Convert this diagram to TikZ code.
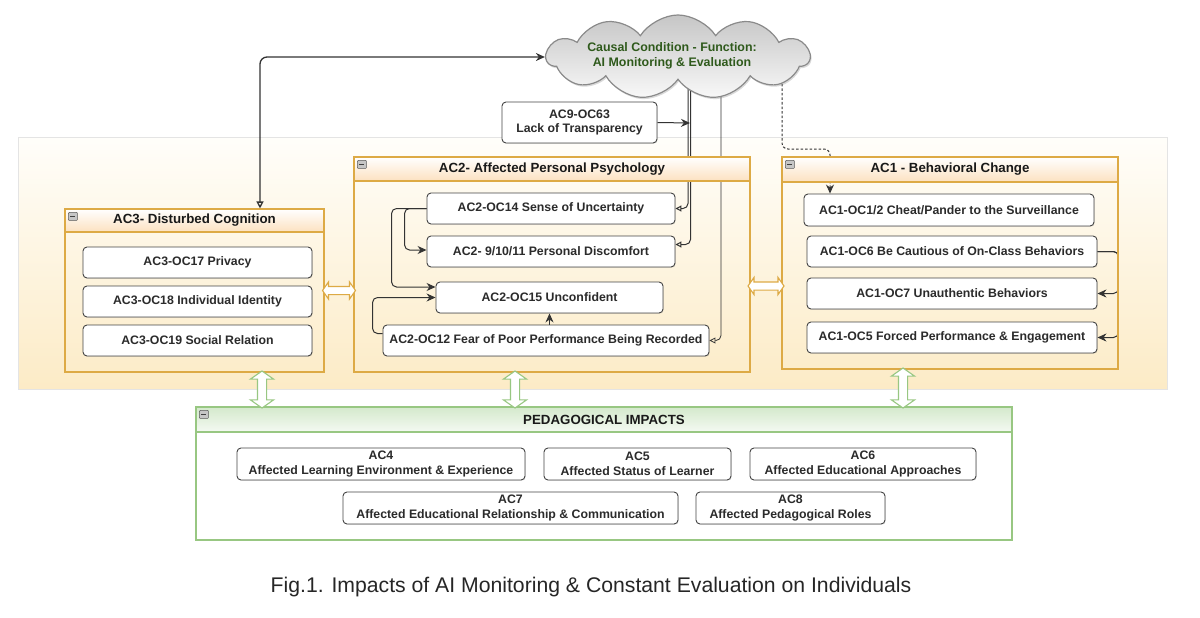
\documentclass[tikz,border=0pt]{standalone}
\usepackage{fontspec}
\setmainfont{Liberation Sans}
\usetikzlibrary{shapes.symbols,shapes.arrows,arrows.meta,calc,shadows}
\pgfdeclarelayer{bglayer}
\pgfdeclarelayer{connlayer}
\pgfsetlayers{bglayer,connlayer,main}
\definecolor{bgT}{HTML}{FFFEFA}
\definecolor{bgBot}{HTML}{FCEBC6}
\definecolor{bgB}{HTML}{E4E4E4}
\definecolor{orA}{HTML}{DDAA45}
\definecolor{orH}{HTML}{FCE1C0}
\definecolor{grA}{HTML}{98C782}
\definecolor{grH}{HTML}{D4E9CC}
\definecolor{boxC}{HTML}{444444}
\definecolor{txtC}{HTML}{2B2B2B}
\definecolor{cloudT}{HTML}{C6C6C6}
\definecolor{cloudB}{HTML}{F8F8F8}
\definecolor{cloudD}{HTML}{8A8A8A}
\definecolor{cloudTxt}{HTML}{2F5A1C}
\definecolor{lineC}{HTML}{333333}
\newcommand\minusicon[1]{%
  \draw[draw=gray!70!black, fill=gray!45, line width=0.5pt, rounded corners=0.8pt]
    ($(#1.north west)+(4,4)$) rectangle ($(#1.north west)+(13,12)$);
  \draw[line width=1pt, black!75] ($(#1.north west)+(6,8)$) -- ($(#1.north west)+(11,8)$);}
\begin{document}
\begin{tikzpicture}[x=1pt,y=-1pt,
  ocbox/.style={draw=boxC, fill=white, rounded corners=4pt, line width=0.9pt, inner sep=0pt,
    align=center, text=txtC, font=\bfseries\fontsize{12.3}{14.5}\selectfont,
    drop shadow={shadow xshift=0.8pt, shadow yshift=-0.8pt, opacity=0.18}},
  grp/.style={draw=orA, line width=1.1pt, inner sep=0pt},
  grphead/.style={draw=orA, line width=1.1pt, top color=white, bottom color=orH, inner sep=0pt,
    font=\bfseries\fontsize{13.3}{15}\selectfont, text=black!90},
  pgrp/.style={draw=grA, line width=1.1pt, inner sep=0pt, fill=white},
  pghead/.style={draw=grA, line width=1.1pt, top color=grH, bottom color=grH!25, inner sep=0pt,
    font=\bfseries\fontsize{13.3}{15}\selectfont, text=black!90},
  conn/.style={draw=lineC, line width=1pt, rounded corners=5pt},
  tipfill/.style={-{Stealth[length=9pt,width=8pt]}},
  tipopen/.style={-{Triangle[open,length=6pt,width=6pt]}},
  dblarr/.style={double arrow, fill=white, line width=1.1pt, inner xsep=0pt, inner ysep=3.5pt,
    double arrow head extend=4.5pt, double arrow tip angle=110},
]
\useasboundingbox (0,0) rectangle (1200,618);

% background band
\begin{pgfonlayer}{bglayer}
\node[draw=bgB, line width=0.6pt, top color=bgT, bottom color=bgBot, minimum width=1149,
  minimum height=252, inner sep=0pt] (bg) at (592.5,263) {};
\end{pgfonlayer}

% cloud
\node[cloud, cloud puffs=11, cloud puff arc=115, aspect=3.1, minimum width=263, minimum height=84,
  draw=cloudD, line width=1.2pt, top color=cloudT, bottom color=cloudB, inner sep=0pt,
  drop shadow={shadow xshift=1.2pt, shadow yshift=-1.8pt, opacity=0.3}] (cloud) at (678,57) {};
\node[text=cloudTxt, font=\bfseries\fontsize{12.4}{15}\selectfont, align=center, inner sep=0pt]
  (cloudtxt) at (672,55.5) {Causal Condition - Function:\\AI Monitoring \& Evaluation};

% AC9
\node[ocbox, minimum width=155, minimum height=41] (ac9) at (579.5,122.5) {AC9-OC63\\Lack of Transparency};

% AC3 group
\node[grp, minimum width=259, minimum height=163] (ac3) at (194.5,290.5) {};
\node[grphead, minimum width=259, minimum height=23, anchor=north] (ac3h) at (ac3.north) {AC3- Disturbed Cognition};
\minusicon{ac3h}
\node[ocbox, minimum width=229, minimum height=31] (oc17) at (197.5,262.5) {AC3-OC17 Privacy};
\node[ocbox, minimum width=229, minimum height=31] (oc18) at (197.5,301.5) {AC3-OC18 Individual Identity};
\node[ocbox, minimum width=229, minimum height=31] (oc19) at (197.5,340.5) {AC3-OC19 Social Relation};

% AC2 group
\node[grp, minimum width=396, minimum height=215] (ac2) at (552,264.5) {};
\node[grphead, minimum width=396, minimum height=24, anchor=north] (ac2h) at (ac2.north) {AC2- Affected Personal Psychology};
\minusicon{ac2h}
\node[ocbox, minimum width=248, minimum height=31] (oc14) at (551,208.5) {AC2-OC14 Sense of Uncertainty};
\node[ocbox, minimum width=248, minimum height=31] (oc91011) at (551,251.5) {AC2- 9/10/11 Personal Discomfort};
\node[ocbox, minimum width=227, minimum height=31] (oc15) at (549.5,297.5) {AC2-OC15 Unconfident};
\node[ocbox, minimum width=326, minimum height=31] (oc12) at (546,340.5) {AC2-OC12 Fear of Poor Performance Being Recorded};

% AC1 group
\node[grp, minimum width=336, minimum height=212] (ac1) at (950,263) {};
\node[grphead, minimum width=336, minimum height=25, anchor=north] (ac1h) at (ac1.north) {AC1 - Behavioral Change};
\minusicon{ac1h}
\node[ocbox, minimum width=290, minimum height=32] (oc12a) at (949,210) {AC1-OC1/2 Cheat/Pander to the Surveillance};
\node[ocbox, minimum width=290, minimum height=31] (oc6) at (952,251.5) {AC1-OC6 Be Cautious of On-Class Behaviors};
\node[ocbox, minimum width=290, minimum height=31] (oc7) at (952,293.5) {AC1-OC7 Unauthentic Behaviors};
\node[ocbox, minimum width=290, minimum height=31] (oc5) at (952,337.5) {AC1-OC5 Forced Performance \& Engagement};

% Pedagogical group
\node[pgrp, minimum width=816, minimum height=133] (ped) at (604,473.5) {};
\node[pghead, minimum width=816, minimum height=25, anchor=north] (pedh) at (ped.north) {PEDAGOGICAL IMPACTS};
\minusicon{pedh}
\node[ocbox, minimum width=288, minimum height=32] (ac4) at (381,464) {AC4\\Affected Learning Environment \& Experience};
\node[ocbox, minimum width=187, minimum height=32] (ac5) at (637.5,464) {AC5\\Affected Status of Learner};
\node[ocbox, minimum width=226, minimum height=32] (ac6) at (863,464) {AC6\\Affected Educational Approaches};
\node[ocbox, minimum width=335, minimum height=32] (ac7) at (510.5,508) {AC7\\Affected Educational Relationship \& Communication};
\node[ocbox, minimum width=189, minimum height=32] (ac8) at (790.5,508) {AC8\\Affected Pedagogical Roles};

% helper coordinates
\coordinate (xa) at (688,0);
\coordinate (xb) at (690.5,0);
\coordinate (xc) at (721,0);
\coordinate (xd) at (782,0);
\coordinate (xe) at (830,0);
\coordinate (yd) at (0,149);
\coordinate (xf) at (260,0);
\coordinate (j9) at (690,123);
\coordinate (yh) at (0,286);
\coordinate (g1) at (262,0);
\coordinate (g2) at (515,0);
\coordinate (g3) at (903,0);

% connectors behind nodes
\begin{pgfonlayer}{connlayer}
\draw[conn, tipopen] (cloud.center -| xa) |- (oc14.east);
\draw[conn, tipopen] (cloud.center -| xb) |- ($(oc91011.east)+(0,-7)$);
\draw[conn, tipopen, line width=0.8pt] (cloud.center -| xc) |- (oc12.east);
\draw[conn, tipfill, dash pattern=on 2.5pt off 2pt, rounded corners=6pt]
  (cloud.center -| xd) -- (xd |- yd) -- (xe |- yd) -- (xe |- oc12a.north);
\draw[conn, tipfill] (ac9.east) -- (j9);
\draw[conn, tipfill] (oc14.west) -- ++(-22,0) |- ($(oc91011.west)+(0,-1.5)$);
\draw[conn, tipfill] (oc14.west) -- ++(-35,0) |- ($(oc15.west)+(0,-10.5)$);
\draw[conn, tipfill] ($(oc12.west)+(0,-7)$) -- ++(-10,0) |- (oc15.west);
\draw[conn, tipfill] (oc15.south |- oc12.north) -- (oc15.south);
\draw[conn, tipfill] (oc6.east) -- ++(21,0) |- (oc7.east);
\draw[conn, tipfill] (oc6.east) -- ++(21,0) |- (oc5.east);
\end{pgfonlayer}

% cloud -> AC3
\draw[conn, line width=1.3pt, rounded corners=7pt,
  {Stealth[length=9pt,width=8pt]}-{Triangle[open,length=7pt,width=7pt]}]
  (cloud.west) -| (xf |- ac3h.north);

% hollow double arrows
\node[dblarr, draw=orA, minimum height=33] (da1)
  at ($(ac3.east)!0.5!(ac3.east -| ac2.west)$) {};
\node[dblarr, draw=orA, minimum height=36] (da2)
  at ($(ac2.east |- yh)!0.5!(ac1.west |- yh)$) {};
\node[dblarr, draw=grA, rotate=90, minimum height=37, inner ysep=4pt, double arrow head extend=7pt] (dg1)
  at ($(g1 |- ac3.south)!0.5!(g1 |- ped.north)$) {};
\node[dblarr, draw=grA, rotate=90, minimum height=37, inner ysep=4pt, double arrow head extend=7pt] (dg2)
  at ($(g2 |- ac2.south)!0.5!(g2 |- ped.north)$) {};
\node[dblarr, draw=grA, rotate=90, minimum height=40, inner ysep=4pt, double arrow head extend=7pt] (dg3)
  at ($(g3 |- ac1.south)!0.5!(g3 |- ped.north)$) {};

% caption
\node[font=\fontsize{21.2}{24}\selectfont, text=black!85, inner sep=0pt] (cap) at (591,587)
  {Fig.1. Impacts of AI Monitoring \& Constant Evaluation on Individuals};
\end{tikzpicture}
\end{document}
